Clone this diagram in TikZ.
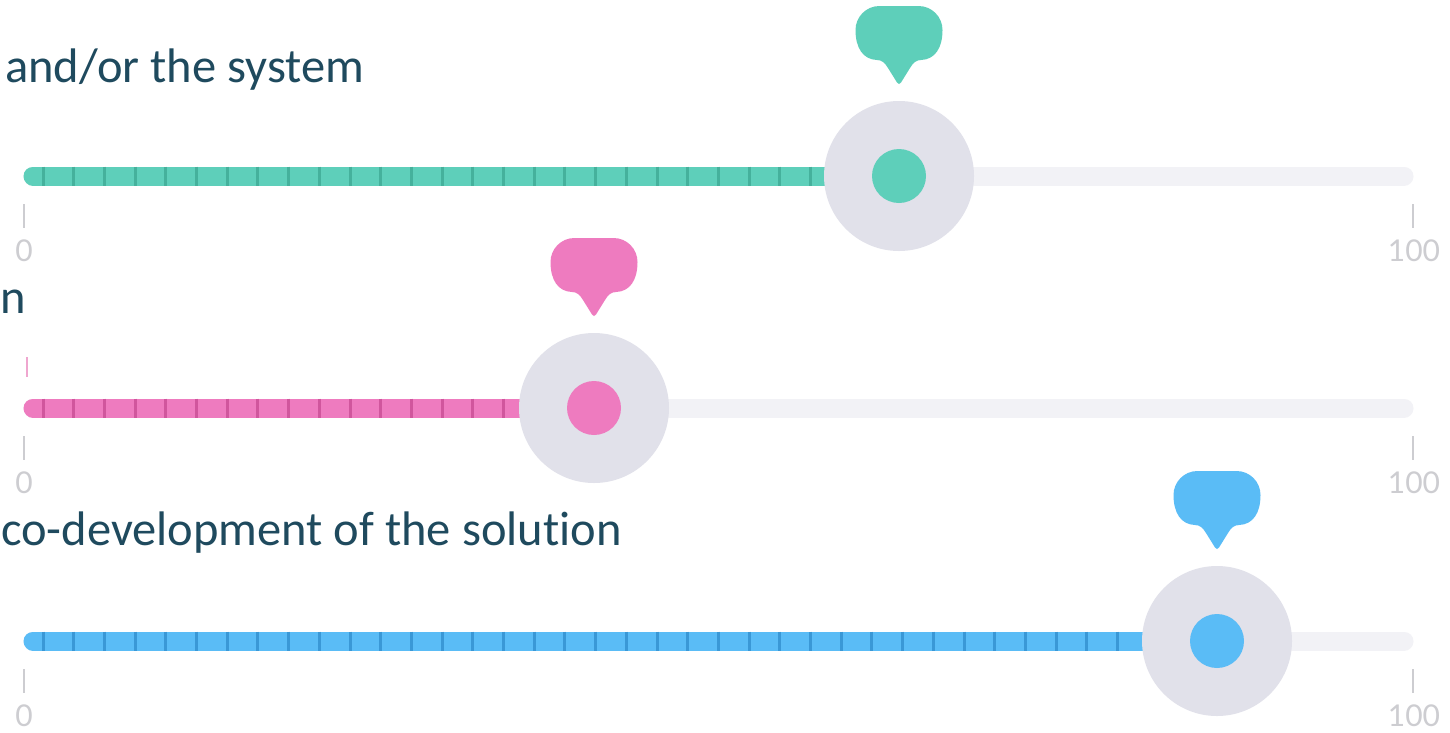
\documentclass[tikz,border=0pt]{standalone}
\usepackage{fontspec}
\setmainfont{Carlito}[Ligatures=NoCommon]
\newfontfamily\numfont{Lato}
\definecolor{txtc}{HTML}{1F4A5E}
\definecolor{gA}{HTML}{5ECFBA}
\definecolor{gAd}{HTML}{45B19C}
\definecolor{pA}{HTML}{EE7BBF}
\definecolor{pAd}{HTML}{D0569D}
\definecolor{bA}{HTML}{5ABCF6}
\definecolor{bAd}{HTML}{3A98D6}
\definecolor{knobc}{HTML}{E1E1EA}
\definecolor{trkc}{HTML}{F2F2F6}
\definecolor{lblc}{HTML}{CDCDD1}
\definecolor{pinklt}{HTML}{EFA6CF}
\tikzset{
  headline/.style={anchor=base west, inner sep=0pt, text=txtc, font=\fontsize{48.5}{52}\selectfont},
  scalelbl/.style={inner sep=0pt, text=lblc, font=\numfont\fontsize{30}{32}\selectfont},
  scaletick/.style={draw=lblc, line width=2pt},
  track/.style={line width=19pt, line cap=round},
}
% #1 track y, #2 knob x, #3 colour, #4 dark colour, #5 last tick index, #6 name
\newcommand\drawslider[6]{%
  \draw[track, trkc] (33,#1) -- (1404,#1);
  \draw[track, #3] (33,#1) -- (#2-40,#1);
  \foreach \k in {0,...,#5} \draw[#4, line width=3pt] (43+30.7*\k, #1-9.5) -- ++(0,19);
  \node[circle, fill=knobc, minimum size=150pt, inner sep=0pt] (#6knob) at (#2,#1) {};
  \node[circle, fill=#3, minimum size=54pt, inner sep=0pt] (#6dot) at (#2,#1) {};
  \fill[#3] (#2-19.5,#1-170) -- (#2+19.5,#1-170)
     .. controls (#2+33,#1-170) and (#2+43.5,#1-159) .. (#2+43.5,#1-146)
     .. controls (#2+43.5,#1-128) and (#2+36,#1-116.5) .. (#2+22,#1-116)
     .. controls (#2+17,#1-116) and (#2+14,#1-113) .. (#2+11,#1-108)
     -- (#2+2,#1-93.5)
     .. controls (#2+1,#1-91.5) and (#2-1,#1-91.5) .. (#2-2,#1-93.5)
     -- (#2-11,#1-108)
     .. controls (#2-14,#1-113) and (#2-17,#1-116) .. (#2-22,#1-116)
     .. controls (#2-36,#1-116.5) and (#2-43.5,#1-128) .. (#2-43.5,#1-146)
     .. controls (#2-43.5,#1-159) and (#2-33,#1-170) .. (#2-19.5,#1-170) -- cycle;
  \draw[scaletick] (24,#1+28) -- (24,#1+52);
  \draw[scaletick] (1413,#1+28) -- (1413,#1+52);
  \node[scalelbl] (#6min) at (24,#1+75) {0};
  \node[scalelbl] (#6max) at (1414,#1+75) {100};
}
\begin{document}
\begin{tikzpicture}[x=1pt,y=-1pt]
\useasboundingbox (0,0) rectangle (1450,732);
\clip (0,0) rectangle (1450,732);
\fill[white] (0,0) rectangle (1450,732);

\drawslider{176}{899}{gA}{gAd}{25}{sa}
\drawslider{408}{594}{pA}{pAd}{15}{sb}
\drawslider{641}{1217}{bA}{bAd}{35}{sc}

\draw[pinklt, line width=2pt] (27,357) -- (27,377);

\node[headline] (t1) at (5,82) {and/or the system};
\node[headline] (t2) at (0,313) {n};
\node[headline] (t3) at (1,545) {co-development of the solution};
\end{tikzpicture}
\end{document}
